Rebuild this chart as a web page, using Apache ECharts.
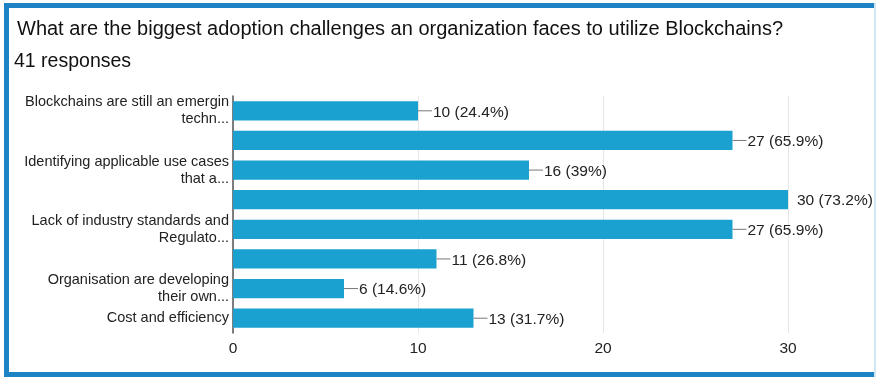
<!DOCTYPE html>
<html>
<head>
<meta charset="utf-8">
<script src="https://cdn.jsdelivr.net/npm/echarts@6/dist/echarts.min.js"></script>
<style>
  html, body { margin: 0; padding: 0; background: #fff; }
  #chart { width: 876px; height: 377px; }
</style>
</head>
<body>
<div id="chart"></div>
<script>
// Survey question and response count
const question = 'What are the biggest adoption challenges an organization faces to utilize Blockchains?';
const responses = '41 responses';

// Answer options (labels that do not fit are left blank, as in the form summary)
const categories = [
  'Blockchains are still an emergin\ntechn...',
  '',
  'Identifying applicable use cases\nthat a...',
  '',
  'Lack of industry standards and\nRegulato...',
  '',
  'Organisation are developing\ntheir own...',
  'Cost and efficiency'
];

// Number of respondents choosing each option, and the share of 41
const counts = [10, 27, 16, 30, 27, 11, 6, 13];
const shares = ['24.4%', '65.9%', '39%', '73.2%', '65.9%', '26.8%', '14.6%', '31.7%'];

// Value-axis ticks
const xTicks = [0, 10, 20, 30];

const FONT = '"Liberation Sans", Arial, Helvetica, sans-serif';
const maxCount = Math.max(...counts);
const chart = echarts.init(document.getElementById('chart'));

chart.setOption({
  animation: false,
  backgroundColor: '#ffffff',
  textStyle: { fontFamily: FONT },
  title: [
    { text: question, left: 12, top: 14,
      textStyle: { fontFamily: FONT, fontSize: 20, fontWeight: 'normal', color: '#111' } },
    { text: responses, left: 9, top: 47,
      textStyle: { fontFamily: FONT, fontSize: 19.5, fontWeight: 'normal', color: '#111' } }
  ],
  graphic: [
    // card frame: heavy blue on top, left and bottom, pale line on the right
    { type: 'rect', shape: { x: 4, y: 3, width: 872, height: 5 }, style: { fill: '#1d83c4' } },
    { type: 'rect', shape: { x: 4, y: 3, width: 5, height: 374 }, style: { fill: '#1d83c4' } },
    { type: 'rect', shape: { x: 4, y: 372, width: 872, height: 5 }, style: { fill: '#1d83c4' } },
    { type: 'rect', shape: { x: 874, y: 3, width: 2, height: 374 }, style: { fill: '#cfe6f3' } }
  ],
  grid: { left: 233, right: 88, top: 96, bottom: 44, containLabel: false },
  xAxis: {
    type: 'value',
    min: xTicks[0],
    max: xTicks[xTicks.length - 1],
    interval: 10,
    axisLine: { show: false },
    axisTick: { show: false },
    axisLabel: { fontFamily: FONT, fontSize: 15.5, color: '#222', margin: 8 },
    splitLine: { show: true, lineStyle: { color: '#e6e6e6', width: 1 } }
  },
  yAxis: {
    type: 'category',
    data: categories,
    inverse: true,
    axisLine: { show: true, lineStyle: { color: '#555', width: 1.5 } },
    axisTick: { show: false },
    axisLabel: {
      fontFamily: FONT, fontSize: 14.5, color: '#222', margin: 4,
      lineHeight: 17, align: 'right', interval: 0
    }
  },
  series: [{
    type: 'bar',
    data: counts,
    barCategoryGap: '35%',
    itemStyle: { color: '#1ba1d0' },
    label: {
      show: true,
      position: 'right',
      distance: 0,
      // leader line before each value; the longest bar's label sits close without one
      formatter: p => (p.value === maxCount ? '{g|}' : '{l|}') +
        '{t|' + p.value + ' (' + shares[p.dataIndex] + ')}',
      rich: {
        l: { width: 14, height: 1, backgroundColor: '#777' },
        g: { width: 8, height: 1 },
        t: { fontFamily: FONT, fontSize: 15.5, color: '#222', padding: [3, 0, 0, 1] }
      }
    }
  }]
});
</script>
</body>
</html>
